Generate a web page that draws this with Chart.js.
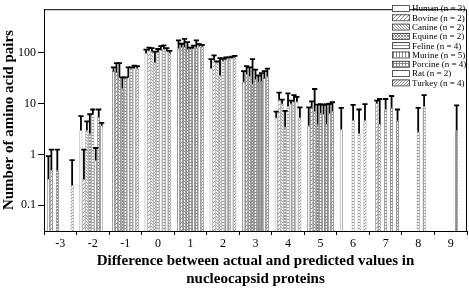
<!DOCTYPE html>
<html>
<head>
<meta charset="utf-8">
<script src="https://cdn.jsdelivr.net/npm/chart.js@4/dist/chart.umd.min.js"></script>
<style>
  html, body { margin: 0; padding: 0; background: #fff; }
  #wrap { width: 469px; height: 288px; position: relative; }
</style>
</head>
<body>
<div id="wrap"><canvas id="c" width="469" height="288"></canvas></div>
<script>
// ---- data ----
const categories = ['-3', '-2', '-1', '0', '1', '2', '3', '4', '5', '6', '7', '8', '9'];
const seriesNames = ['Human (n = 3)', 'Bovine (n = 2)', 'Canine (n = 2)', 'Equine (n = 2)', 'Feline (n = 4)',
                     'Murine (n = 5)', 'Porcine (n = 4)', 'Rat (n = 2)', 'Turkey (n = 4)'];

const human   = [0.33, 3.0, 44, 100, 122, 50, 27, 5.3, 3.7, 3.1, null, null, null];
const bovine  = [0.49, 0.33, 42, 112, 128, 72, 38, 12, 8.3, null, 10.3, null, null];
const canine  = [null, 3.0, 33, 108, 131, 65, 35, 10, 7.0, null, 4.0, null, null];
const equine  = [0.49, 2.6, 20, 65, 120, 36, 24, 3.5, 4.0, null, null, null, null];
const feline  = [null, 6.2, 31, 105, 118, 70, 30, 9, 6.6, 4.7, 7.7, 2.8, null];
const murine  = [null, 0.76, 33, 115, 125, 75, 27, 10, 6.2, null, null, null, null];
const porcine = [null, 5.5, 50, 120, 128, 78, 28, 11, 4.0, 2.6, 8.3, 8.9, 3.0];
const rat     = [null, 3.7, 50, 110, 135, 80, 32, 11, 6.4, null, null, null, null];
const turkey  = [0.25, null, 50, 100, 133, 82, 35, 5.3, 7.0, 4.7, 4.6, null, null];

// upper error (SD) for each bar
const humanErr   = [0.60, 2.7, 8, 17, 55, 26, 17, 1.7, 4.8, 5.2, null, null, null];
const bovineErr  = [0.75, 0.92, 21, 16, 24, 18, 17, 4.5, 2.8, null, 1.2, null, null];
const canineErr  = [null, 1.5, 30, 17, 58, 3, 17, 2, 12.5, null, 8.4, null, null];
const equineErr  = [0.75, 3.6, 13, 41, 44, 43, 52, 3.7, 5.6, null, null, null, null];
const felineErr  = [null, 1.5, 2, 15, 10, 7, 17, 7, 3.2, 4.8, 4.7, 5.5, null];
const murineErr  = [null, 0.58, 19, 22, 15, 7, 9, 1.5, 3.3, null, null, null, null];
const porcineErr = [null, 2.2, 2, 21, 49, 4, 12, 3.8, 5.8, 5.1, 5.9, 5.9, 6.3];
const ratErr     = [null, 0.5, 6, 15, 15, 5, 12, 2.7, 3.6, null, null, null, null];
const turkeyErr  = [0.52, null, 5, 10, 12, 6, 14, 3.2, 3.7, 5.1, 3.1, null, null];

const yTickValues = [0.1, 1, 10, 100];
const yTickLabels = ['0.1', '1', '10', '100'];

const xTitle = ['Difference between actual and predicted values in', 'nucleocapsid proteins'];
const yTitle = 'Number of amino acid pairs';

// ---- patterns ----
function makePattern(kind) {
  const s = kind === 'bovine' ? 4 : 3;
  const cv = document.createElement('canvas');
  cv.width = s; cv.height = s;
  const g = cv.getContext('2d');
  g.fillStyle = '#fff'; g.fillRect(0, 0, s, s);
  g.fillStyle = '#8a8a8a';
  if (kind === 'bovine' || kind === 'turkey') {
    for (let i = 0; i < s; i++) g.fillRect(s - 1 - i, i, 1, 1);
  } else if (kind === 'canine') {
    for (let i = 0; i < s; i++) g.fillRect(i, i, 1, 1);
  } else if (kind === 'equine') {
    for (let i = 0; i < s; i++) { g.fillRect(i, i, 1, 1); g.fillRect(s - 1 - i, i, 1, 1); }
  } else if (kind === 'feline') {
    g.fillRect(0, 0, s, 1);
  } else if (kind === 'murine') {
    g.fillRect(0, 0, 1, s);
  } else if (kind === 'porcine') {
    g.fillRect(0, 0, s, 1); g.fillRect(0, 0, 1, s);
  }
  return g.createPattern(cv, 'repeat');
}

const seriesData = [human, bovine, canine, equine, feline, murine, porcine, rat, turkey];
const seriesErr = [humanErr, bovineErr, canineErr, equineErr, felineErr, murineErr, porcineErr, ratErr, turkeyErr];
const kinds = ['white', 'bovine', 'canine', 'equine', 'feline', 'murine', 'porcine', 'white', 'turkey'];

const datasets = seriesNames.map((name, i) => ({
  label: name,
  data: seriesData[i],
  errors: seriesErr[i],
  backgroundColor: kinds[i] === 'white' ? '#ffffff' : makePattern(kinds[i]),
  borderColor: '#6a6a6a',
  borderWidth: 0.8,
  categoryPercentage: 0.82,
  barPercentage: 1.0
}));

// ---- plugins ----
const errorBars = {
  id: 'errorBars',
  afterDatasetsDraw(chart) {
    const ctx = chart.ctx, y = chart.scales.y;
    ctx.save();
    ctx.strokeStyle = '#000';
    ctx.lineWidth = 1.8;
    chart.data.datasets.forEach((ds, i) => {
      const meta = chart.getDatasetMeta(i);
      meta.data.forEach((bar, j) => {
        const v = ds.data[j], e = ds.errors[j];
        if (v == null || e == null) return;
        const top = y.getPixelForValue(v + e);
        ctx.beginPath();
        ctx.moveTo(bar.x, bar.y);
        ctx.lineTo(bar.x, top);
        ctx.moveTo(bar.x - 2.6, top);
        ctx.lineTo(bar.x + 2.6, top);
        ctx.stroke();
      });
    });
    ctx.restore();
  }
};

const frame = {
  id: 'frame',
  afterDraw(chart) {
    const {ctx, chartArea: a} = chart;
    ctx.save();
    ctx.strokeStyle = '#000';
    ctx.lineWidth = 1;
    ctx.beginPath();
    ctx.moveTo(a.left, a.top + 0.5);
    ctx.lineTo(a.right - 0.5, a.top + 0.5);
    ctx.lineTo(a.right - 0.5, a.bottom);
    ctx.stroke();
    ctx.restore();
  }
};

const boxLegend = {
  id: 'boxLegend',
  afterDraw(chart) {
    const ctx = chart.ctx;
    const x0 = 392, y0 = 5, rowH = 9.3, bw = 17, bh = 6;
    ctx.save();
    ctx.font = '9px "Liberation Serif", "Times New Roman", serif';
    ctx.textBaseline = 'middle';
    ctx.fillStyle = '#000';
    chart.data.datasets.forEach((ds, i) => {
      const yy = y0 + i * rowH;
      ctx.fillStyle = ds.backgroundColor;
      ctx.fillRect(x0, yy, bw, bh);
      ctx.strokeStyle = '#333';
      ctx.lineWidth = 0.8;
      ctx.strokeRect(x0 + 0.5, yy + 0.5, bw, bh);
      ctx.fillStyle = '#000';
      ctx.fillText(ds.label, x0 + bw + 3, yy + bh / 2 + 1);
    });
    ctx.restore();
  }
};

Chart.defaults.font.family = '"Liberation Serif", "Times New Roman", serif';
Chart.defaults.color = '#000';

new Chart(document.getElementById('c'), {
  type: 'bar',
  data: { labels: categories, datasets },
  options: {
    responsive: false,
    animation: false,
    layout: { padding: { top: 1, right: 2, left: 0, bottom: 0 } },
    plugins: { legend: { display: false }, tooltip: { enabled: false } },
    scales: {
      x: {
        grid: { display: true, drawOnChartArea: false, drawTicks: true, tickLength: 4, color: '#000' },
        border: { display: true, color: '#000', width: 1 },
        ticks: { font: { size: 12 }, maxRotation: 0, autoSkip: false, padding: 2 },
        title: { display: true, text: xTitle, font: { size: 15, weight: 'bold', lineHeight: 1.2 }, padding: { top: 0, bottom: 0 } },
        afterFit: (s) => { s.height = 57; }
      },
      y: {
        type: 'logarithmic',
        min: 0.031,
        max: 730,
        grid: { display: true, drawOnChartArea: false, drawTicks: true, tickLength: 6, color: '#000' },
        border: { display: true, color: '#000', width: 1 },
        afterBuildTicks: (scale) => { scale.ticks = yTickValues.map(v => ({ value: v })); },
        ticks: {
          font: { size: 12 }, padding: 2, autoSkip: false,
          callback: (v) => { const k = yTickValues.indexOf(v); return k >= 0 ? yTickLabels[k] : ''; }
        },
        title: { display: true, text: yTitle, font: { size: 15, weight: 'bold', lineHeight: 1.2 }, padding: { top: 0, bottom: 0 } },
        afterFit: (s) => { s.width = 44; }
      }
    }
  },
  plugins: [errorBars, frame, boxLegend]
});
</script>
</body>
</html>
